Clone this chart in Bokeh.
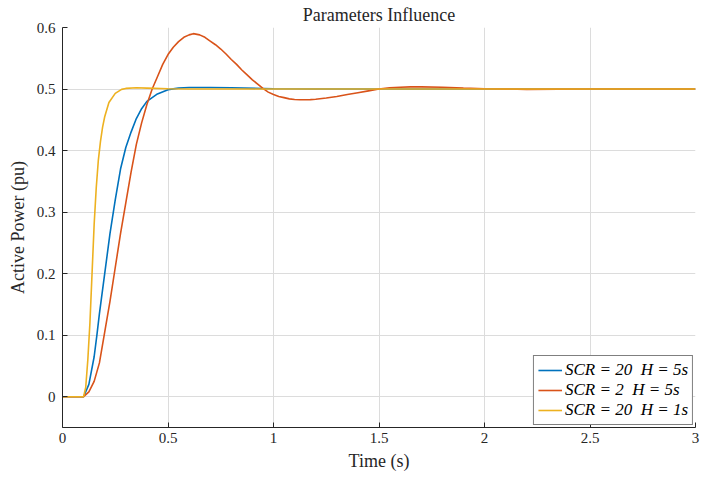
from bokeh.plotting import figure
from bokeh.models import FixedTicker, Legend, LegendItem
from bokeh.embed import file_html
from bokeh.resources import INLINE

# ---- data ----
t_blue = [0, 0.1, 0.125, 0.15, 0.163, 0.175, 0.2, 0.225, 0.25, 0.275, 0.3, 0.325, 0.35,
          0.375, 0.4, 0.45, 0.5, 0.55, 0.6, 0.7, 0.8, 1.0, 1.2, 1.5, 2.0, 2.5, 3.0]
p_blue = [0, 0, 0.02, 0.065, 0.1, 0.135, 0.2, 0.265, 0.32, 0.37, 0.405, 0.43, 0.452,
          0.468, 0.48, 0.492, 0.499, 0.5015, 0.5025, 0.5025, 0.502, 0.5005, 0.5, 0.5, 0.5, 0.5, 0.5]

t_orange = [0, 0.1, 0.125, 0.15, 0.175, 0.2, 0.225, 0.25, 0.275, 0.3, 0.325, 0.35, 0.375,
            0.4, 0.425, 0.45, 0.475, 0.5, 0.525, 0.55, 0.575, 0.6, 0.62, 0.65, 0.675, 0.7,
            0.725, 0.75, 0.775, 0.8, 0.825, 0.85, 0.875, 0.9, 0.925, 0.95, 0.975,
            1.0, 1.025, 1.05, 1.075, 1.1, 1.125, 1.15, 1.175, 1.2, 1.25, 1.3, 1.35, 1.4,
            1.45, 1.5, 1.55, 1.6, 1.65, 1.7, 1.8, 1.9, 2.0, 2.2, 2.5, 3.0]
p_orange = [0, 0, 0.008, 0.025, 0.055, 0.105, 0.155, 0.21, 0.265, 0.315, 0.365, 0.41, 0.445,
            0.475, 0.5, 0.52, 0.54, 0.556, 0.568, 0.577, 0.584, 0.588, 0.59, 0.588, 0.584, 0.578,
            0.572, 0.565, 0.557, 0.548, 0.54, 0.531, 0.523, 0.515, 0.508, 0.501, 0.495,
            0.491, 0.488, 0.486, 0.484, 0.483, 0.4826, 0.4825, 0.4828, 0.4835, 0.4855, 0.488,
            0.491, 0.494, 0.497, 0.5, 0.502, 0.503, 0.5035, 0.5035, 0.503, 0.5015, 0.5005,
            0.4995, 0.5, 0.5]

t_yellow = [0, 0.1, 0.11, 0.12, 0.13, 0.14, 0.15, 0.16, 0.17, 0.18, 0.19, 0.2, 0.22, 0.25,
            0.28, 0.3, 0.35, 0.4, 0.5, 0.6, 1.0, 2.0, 3.0]
p_yellow = [0, 0, 0.015, 0.06, 0.12, 0.2, 0.28, 0.34, 0.385, 0.415, 0.438, 0.455, 0.478,
            0.493, 0.4995, 0.501, 0.502, 0.5015, 0.5005, 0.5, 0.5, 0.5, 0.5]

labels = ["SCR = 20  H = 5s", "SCR = 2  H = 5s", "SCR = 20  H = 1s"]
colors = ["#0072BD", "#D95319", "#EDB120"]

x_ticks = [0, 0.5, 1, 1.5, 2, 2.5, 3]
x_tick_labels = ["0", "0.5", "1", "1.5", "2", "2.5", "3"]
y_ticks = [0, 0.1, 0.2, 0.3, 0.4, 0.5, 0.6]
y_tick_labels = ["0", "0.1", "0.2", "0.3", "0.4", "0.5", "0.6"]

FONT = "Liberation Serif"

p = figure(width=718, height=478, x_range=(0, 3), y_range=(-0.05, 0.6),
           title="Parameters Influence",
           output_backend="svg", toolbar_location=None,
           min_border_left=62, min_border_right=23, min_border_top=27, min_border_bottom=51)
p.outline_line_color = None
p.background_fill_color = "white"
p.border_fill_color = "white"

p.title.align = "center"
p.title.text_font = FONT
p.title.text_font_size = "18px"
p.title.text_font_style = "normal"
p.title.text_color = "#262626"
p.title.standoff = 5
p.title.offset = 0

r1 = p.line(t_blue, p_blue, line_color=colors[0], line_width=1.6)
r2 = p.line(t_orange, p_orange, line_color=colors[1], line_width=1.6)
r3 = p.line(t_yellow, p_yellow, line_color=colors[2], line_width=1.6)

for ax in (p.xaxis[0], p.yaxis[0]):
    ax.axis_line_color = "#262626"
    ax.axis_line_width = 1
    ax.major_tick_line_color = "#262626"
    ax.major_tick_in = 5
    ax.major_tick_out = 0
    ax.minor_tick_line_color = None
    ax.major_label_text_font = FONT
    ax.major_label_text_font_size = "15px"
    ax.major_label_text_color = "#262626"
    ax.axis_label_text_font = FONT
    ax.axis_label_text_font_size = "18px"
    ax.axis_label_text_font_style = "normal"
    ax.axis_label_text_color = "#262626"

p.xaxis.ticker = FixedTicker(ticks=x_ticks)
p.xaxis.major_label_overrides = {float(k): v for k, v in zip(x_ticks, x_tick_labels)}
p.yaxis.ticker = FixedTicker(ticks=y_ticks)
p.yaxis.major_label_overrides = {float(k): v for k, v in zip(y_ticks, y_tick_labels)}
p.xaxis.axis_label = "Time (s)"
p.yaxis.axis_label = "Active Power (pu)"
p.xaxis.major_label_standoff = 5
p.yaxis.major_label_standoff = 7
p.xaxis.axis_label_standoff = 5
p.yaxis.axis_label_standoff = 6

p.xgrid.grid_line_color = "#dcdcdc"
p.ygrid.grid_line_color = "#dcdcdc"
p.xgrid.grid_line_width = 1
p.ygrid.grid_line_width = 1

legend = Legend(items=[LegendItem(label=labels[0], renderers=[r1]),
                       LegendItem(label=labels[1], renderers=[r2]),
                       LegendItem(label=labels[2], renderers=[r3])],
                location="bottom_right", margin=2, padding=4, spacing=0,
                label_height=18, glyph_height=18, glyph_width=24, label_standoff=3,
                label_text_font=FONT, label_text_font_style="italic",
                label_text_font_size="17px", label_text_color="black",
                border_line_color="black", border_line_width=1,
                background_fill_color="white", background_fill_alpha=1)
p.add_layout(legend)

open("out.html", "w").write(file_html(p, INLINE))
